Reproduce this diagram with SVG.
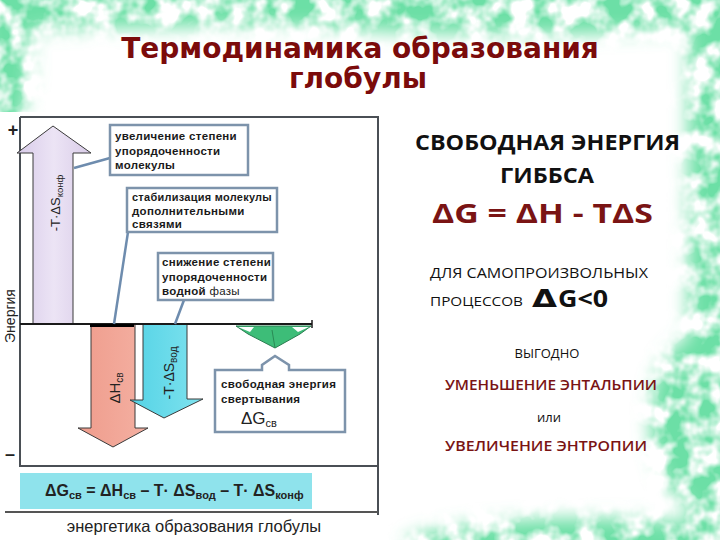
<svg xmlns="http://www.w3.org/2000/svg" width="720" height="540" viewBox="0 0 720 540">
<style>
.frame{fill:none;stroke:#4a4f55;stroke-width:2}
.box{fill:#fff;stroke:#7d93ab;stroke-width:2.5}
.lead{fill:none;stroke:#6e8cae;stroke-width:2.5}
.bt{font-family:"Liberation Sans",Arial,sans-serif;font-size:11.5px;font-weight:bold;fill:#1a1a1a;letter-spacing:0.3px}
.rt{font-family:"Liberation Sans",Arial,sans-serif;fill:#222}
.os{font-family:"Open Sans","DejaVu Sans",sans-serif}
.dr{fill:#7a1414}
.arr{stroke:#3a3a3a;stroke-width:1}
</style>
<defs>
<filter id="mottle" x="0" y="0" width="720" height="540" filterUnits="userSpaceOnUse">
<feGaussianBlur in="SourceAlpha" stdDeviation="9" result="m"/>
<feTurbulence type="fractalNoise" baseFrequency="0.045" numOctaves="3" seed="7" result="n"/>
<feColorMatrix in="n" type="matrix" values="0 0 0 0 0.15  0 0 0 0 0.74  0 0 0 0 0.38  0 0 0 3 -0.95" result="g"/>
<feComposite in="g" in2="m" operator="in"/>
</filter>
<linearGradient id="purp" x1="0" y1="0" x2="1" y2="0">
<stop offset="0" stop-color="#d8cbe9"/><stop offset="0.5" stop-color="#ece4f5"/><stop offset="1" stop-color="#d9cce8"/>
</linearGradient>
<linearGradient id="red" x1="0" y1="0" x2="1" y2="0">
<stop offset="0" stop-color="#ef9c8c"/><stop offset="1" stop-color="#f4b0a2"/>
</linearGradient>
<linearGradient id="cy" x1="0" y1="0" x2="1" y2="0">
<stop offset="0" stop-color="#54d3e6"/><stop offset="1" stop-color="#7fe2ee"/>
</linearGradient>
</defs>
<rect width="720" height="540" fill="#ffffff"/>
<g id="background" filter="url(#mottle)">
<path fill="#000" d="M-20,-20 H740 V28 Q520,40 360,30 Q180,22 -20,34 Z"/>
<rect x="688" y="-20" width="60" height="580" fill="#000"/>
<ellipse cx="590" cy="548" rx="190" ry="30" fill="#000"/>
<ellipse cx="8" cy="60" rx="24" ry="70" fill="#000"/>
<ellipse cx="690" cy="420" rx="40" ry="80" fill="#000"/>
</g>
<g id="title">
<text x="360" y="58" text-anchor="middle" font-family="DejaVu Sans,sans-serif" font-weight="bold" font-size="28" fill="#7b0b0b">Термодинамика образования</text>
<text x="358" y="88" text-anchor="middle" font-family="DejaVu Sans,sans-serif" font-weight="bold" font-size="28" fill="#7b0b0b">глобулы</text>
</g>
<g id="chart-frame">
<rect x="0" y="112" width="380" height="410" fill="#fff"/>
<path class="frame" d="M20,117 H378 V515 M20,117 V466 H378"/>
<path d="M5,512 H378" stroke="#555" stroke-width="2"/>
<text x="13" y="136" text-anchor="middle" class="rt" font-weight="bold" font-size="18">+</text>
<text x="10" y="460" text-anchor="middle" class="rt" font-weight="bold" font-size="18">–</text>
<text transform="translate(15,316) rotate(-90)" text-anchor="middle" class="rt" font-size="14">Энергия</text>
</g>
<g id="arrow-konf">
<polygon class="arr" fill="url(#purp)" points="33,324 33,153 17,153 53,126 91,153 73,153 73,324"/>
<text transform="translate(60,203) rotate(-90)" text-anchor="middle" class="rt" font-size="13">-T·ΔS<tspan font-size="9.5" dy="3">конф</tspan></text>
</g>
<g id="arrow-h">
<polygon class="arr" fill="url(#red)" points="91,324 135,324 135,428 148,428 113,447 78,428 91,428"/>
<text transform="translate(120,388) rotate(-90)" text-anchor="middle" class="rt" font-size="15">ΔH<tspan font-size="10" dy="3">св</tspan></text>
</g>
<g id="arrow-vod">
<polygon class="arr" fill="url(#cy)" points="143,324 187,324 187,399 203,399 164,418 130,400 143,400"/>
<text transform="translate(174,373) rotate(-90)" text-anchor="middle" class="rt" font-size="14">-T·ΔS<tspan font-size="10" dy="3">вод</tspan></text>
</g>
<g id="arrow-g">
<polygon fill="#3dbd78" stroke="#2a7d50" stroke-width="1" points="236,326 311,326 300,334 275,348 248,334"/>
<polygon fill="#ffffff" points="238,327 254,327 250,332"/>
<polygon fill="#ffffff" points="292,327 309,327 298,332"/>
<path d="M275,348 L272,330" stroke="#2a8a55" stroke-width="1"/>
</g>
<g id="connectors">
<path d="M20,324 H312" stroke="#1a1a1a" stroke-width="2"/>
<path d="M312,320 V328" stroke="#1a1a1a" stroke-width="1.5"/>
<path d="M90,325.5 H134" stroke="#000" stroke-width="3"/>
<path class="lead" d="M110,158 L74,168"/>
<path class="lead" d="M128,232 L114,324"/>
<path class="lead" d="M184,300 L175,324"/>
</g>
<g id="box1">
<rect class="box" x="110" y="125" width="138" height="50"/>
<text class="bt" x="115" y="140">увеличение степени</text>
<text class="bt" x="115" y="155">упорядоченности</text>
<text class="bt" x="115" y="169">молекулы</text>
</g>
<g id="box2">
<rect class="box" x="127" y="188" width="150" height="44"/>
<text class="bt" x="132" y="201" letter-spacing="0" textLength="140" lengthAdjust="spacingAndGlyphs">стабилизация молекулы</text>
<text class="bt" x="132" y="215">дополнительными</text>
<text class="bt" x="132" y="228" font-size="10">связями</text>
</g>
<g id="box3">
<rect class="box" x="158" y="253" width="115" height="47"/>
<text class="bt" x="162" y="266">снижение степени</text>
<text class="bt" x="162" y="281" font-weight="normal">упорядоченности</text>
<text class="bt" x="162" y="295">водной <tspan font-weight="normal">фазы</tspan></text>
</g>
<g id="box4">
<path class="box" d="M215,370 H262 V365 L275,356 L289,365 V370 H345 V432 H215 Z"/>
<text class="bt" x="221" y="388">свободная энергия</text>
<text class="bt" x="221" y="403">свертывания</text>
<text class="rt" x="241" y="424" font-size="17">ΔG<tspan font-size="11" dy="3">св</tspan></text>
</g>
<g id="formula">
<rect x="20" y="473" width="292" height="36" fill="#8fe3ec"/>
<text x="45" y="496" class="rt" font-size="16" font-weight="bold" fill="#333">ΔG<tspan font-size="11" dy="3">св</tspan><tspan dy="-3"> = ΔH</tspan><tspan font-size="11" dy="3">св</tspan><tspan dy="-3"> – T· ΔS</tspan><tspan font-size="11" dy="3">вод</tspan><tspan dy="-3"> – T· ΔS</tspan><tspan font-size="11" dy="3">конф</tspan></text>
</g>
<text x="194" y="532" text-anchor="middle" class="rt" font-size="16.5" fill="#111">энергетика образования глобулы</text>
<g id="gibbs">
<text class="os" x="415" y="150" font-size="22" font-weight="bold" fill="#111" textLength="265" lengthAdjust="spacingAndGlyphs">СВОБОДНАЯ ЭНЕРГИЯ</text>
<text class="os" x="500" y="183" font-size="22" font-weight="bold" fill="#111" textLength="94" lengthAdjust="spacingAndGlyphs">ГИББСА</text>
<text class="os dr" x="432" y="223" font-size="27" font-weight="bold" textLength="221" lengthAdjust="spacingAndGlyphs">ΔG =  ΔH - TΔS</text>
<text class="os" x="430" y="278" font-size="14" fill="#111" textLength="218" lengthAdjust="spacingAndGlyphs">ДЛЯ  САМОПРОИЗВОЛЬНЫХ</text>
<text class="os" x="430" y="306" font-size="13" fill="#111" textLength="93" lengthAdjust="spacingAndGlyphs">ПРОЦЕССОВ</text>
<text x="532" y="307" font-family="DejaVu Sans,sans-serif" font-size="24" font-weight="bold" fill="#111" textLength="25" lengthAdjust="spacingAndGlyphs">Δ</text>
<text class="os" x="558" y="307" font-size="23" font-weight="bold" fill="#111" textLength="50" lengthAdjust="spacingAndGlyphs">G&lt;0</text>
<text class="os" x="547" y="358" text-anchor="middle" font-size="13" fill="#111">ВЫГОДНО</text>
<text class="os dr" x="445" y="390" font-size="15" font-weight="600" textLength="212" lengthAdjust="spacingAndGlyphs">УМЕНЬШЕНИЕ ЭНТАЛЬПИИ</text>
<text class="os" x="549" y="422" text-anchor="middle" font-size="13" fill="#111">или</text>
<text class="os dr" x="445" y="451" font-size="15" font-weight="600" textLength="202" lengthAdjust="spacingAndGlyphs">УВЕЛИЧЕНИЕ ЭНТРОПИИ</text>
</g>
</svg>
